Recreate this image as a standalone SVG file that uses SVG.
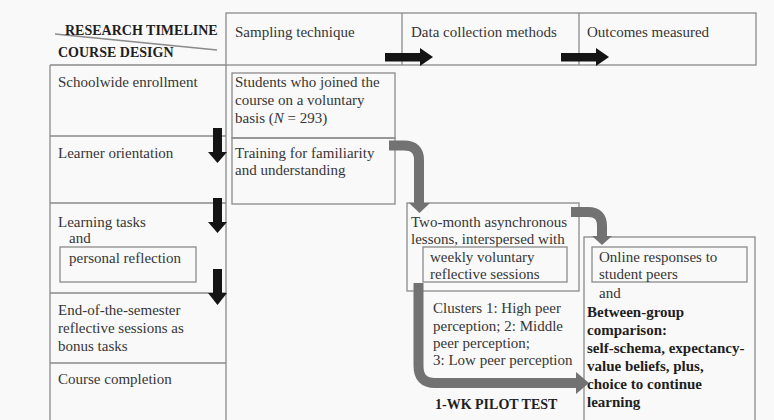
<svg xmlns="http://www.w3.org/2000/svg" width="774" height="420" viewBox="0 0 774 420">
  <style>
    .t{font-family:"Liberation Serif","Times New Roman",serif;font-size:15px;fill:#363636}
    .b{font-weight:bold;fill:#1e1e1e}
    .h{font-size:14px}
    .ln{fill:none;stroke:#8a8a8a;stroke-width:1.3}
    .flow{fill:none;stroke:#727272;stroke-width:10}
    .gh{fill:#727272}
    .blk{fill:#141414}
  </style>
  <rect width="774" height="420" fill="#f9f9f9"/>

  <!-- table grid -->
  <g id="grid">
    <rect class="ln" x="226" y="13" width="530" height="52"/>
    <line class="ln" x1="402" y1="13" x2="402" y2="65"/>
    <line class="ln" x1="579" y1="13" x2="579" y2="65"/>
    <line class="ln" x1="50" y1="65" x2="226" y2="65"/>
    <line class="ln" x1="50" y1="65" x2="50" y2="420"/>
    <line class="ln" x1="226" y1="65" x2="226" y2="420"/>
    <line class="ln" x1="50" y1="136" x2="226" y2="136"/>
    <line class="ln" x1="50" y1="203" x2="226" y2="203"/>
    <line class="ln" x1="50" y1="293" x2="226" y2="293"/>
    <line class="ln" x1="50" y1="363" x2="226" y2="363"/>
    <line class="ln" x1="55" y1="34" x2="217" y2="50"/>
  </g>

  <!-- header labels -->
  <g id="header">
    <text class="t b h" x="65" y="35">RESEARCH TIMELINE</text>
    <text class="t b h" x="58" y="57">COURSE DESIGN</text>
    <text class="t" x="235" y="37">Sampling technique</text>
    <text class="t" x="411" y="37">Data collection methods</text>
    <text class="t" x="587" y="37">Outcomes measured</text>
  </g>

  <!-- course design stages -->
  <g id="enrollment"><text class="t" x="58" y="87">Schoolwide enrollment</text></g>
  <g id="orientation"><text class="t" x="58" y="158">Learner orientation</text></g>
  <g id="learning-tasks">
    <text class="t" x="58" y="227">Learning tasks</text>
    <text class="t" x="69" y="243">and</text>
    <rect class="ln" x="60" y="247" width="136" height="35"/>
    <text class="t" x="69" y="263">personal reflection</text>
  </g>
  <g id="semester-end">
    <text class="t" x="58" y="315">End-of-the-semester</text>
    <text class="t" x="58" y="333">reflective sessions as</text>
    <text class="t" x="58" y="351">bonus tasks</text>
  </g>
  <g id="completion"><text class="t" x="58" y="384">Course completion</text></g>

  <!-- sampling -->
  <g id="students">
    <rect class="ln" x="232" y="73" width="163" height="65"/>
    <text class="t" x="235" y="87">Students who joined the</text>
    <text class="t" x="235" y="105">course on a voluntary</text>
    <text class="t" x="235" y="123">basis (<tspan font-style="italic">N</tspan> = 293)</text>
  </g>
  <g id="training">
    <rect class="ln" x="232" y="138" width="163" height="66"/>
    <text class="t" x="235" y="158">Training for familiarity</text>
    <text class="t" x="235" y="175">and understanding</text>
  </g>

  <!-- data collection -->
  <g id="lessons">
    <rect class="ln" x="407" y="203" width="172" height="88"/>
    <text class="t" x="411" y="227">Two-month asynchronous</text>
    <text class="t" x="411" y="244">lessons, interspersed with</text>
    <rect class="ln" x="423" y="247" width="144" height="35"/>
    <text class="t" x="430" y="262">weekly voluntary</text>
    <text class="t" x="430" y="279">reflective sessions</text>
  </g>
  <g id="clusters">
    <text class="t" x="433" y="313">Clusters 1: High peer</text>
    <text class="t" x="433" y="331">perception; 2: Middle</text>
    <text class="t" x="433" y="348">peer perception;</text>
    <text class="t" x="433" y="365">3: Low peer perception</text>
    <text class="t b h" x="435" y="409">1-WK PILOT TEST</text>
  </g>

  <!-- outcomes -->
  <g id="outcomes">
    <rect class="ln" x="584" y="237" width="171" height="190"/>
    <rect class="ln" x="592" y="247" width="155" height="35"/>
    <text class="t" x="599" y="262">Online responses to</text>
    <text class="t" x="599" y="279">student peers</text>
    <text class="t" x="599" y="298">and</text>
    <text class="t b" x="587" y="317">Between-group</text>
    <text class="t b" x="587" y="335">comparison:</text>
    <text class="t b" x="587" y="353">self-schema, expectancy-</text>
    <text class="t b" x="587" y="371">value beliefs, plus,</text>
    <text class="t b" x="587" y="389">choice to continue</text>
    <text class="t b" x="587" y="407">learning</text>
  </g>

  <!-- connectors -->
  <g id="connectors">
    <rect class="blk" x="385" y="53" width="36" height="8.5"/>
    <polygon class="blk" points="420,48 420,66 433,57"/>
    <rect class="blk" x="561" y="53" width="36" height="8.5"/>
    <polygon class="blk" points="596,48 596,66 609,57"/>

    <rect class="blk" x="213" y="128" width="9" height="25"/>
    <polygon class="blk" points="208,152 227,152 217.5,163"/>
    <rect class="blk" x="213" y="198" width="9" height="25"/>
    <polygon class="blk" points="208,222 227,222 217.5,233"/>
    <rect class="blk" x="213" y="269" width="9" height="25"/>
    <polygon class="blk" points="208,293 227,293 217.5,305"/>

    <path class="flow" d="M389,145.5 H404 Q419,145.5 419,160 V204"/>
    <polygon class="gh" points="409,203 430,203 419.5,213"/>
    <path class="flow" d="M571,212 H588 Q602,212 602,226 V237"/>
    <polygon class="gh" points="592,236 612,236 602,245"/>
    <path class="flow" d="M418.5,283 V366 Q418.5,383 435,383 H577"/>
    <polygon class="gh" points="576,372 576,394 589,383"/>
  </g>
</svg>
